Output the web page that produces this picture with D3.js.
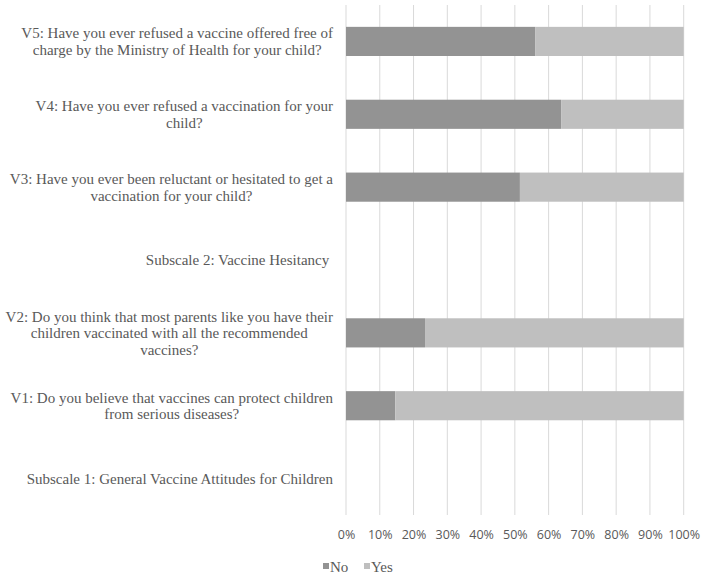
<!DOCTYPE html>
<html>
<head>
<meta charset="utf-8">
<script src="https://cdn.jsdelivr.net/npm/d3@7"></script>
<style>
  body { margin: 0; background: #fff; }
  svg { display: block; }
</style>
</head>
<body>
<svg id="vis" width="708" height="580"></svg>
<script>
// categories from top to bottom, each label split in lines as in the picture
var categories = ["V5", "V4", "V3", "S2", "V2", "V1", "S1"];
var labelLines = [
    ["V5: Have you ever refused a vaccine offered free of", "charge by the Ministry of Health for your child?"],
    ["V4: Have you ever refused a vaccination for your", "child?"],
    ["V3: Have you ever been reluctant or hesitated to get a", "vaccination for your child?"],
    ["Subscale 2: Vaccine Hesitancy\u00a0"],
    ["V2: Do you think that most parents like you have their", "children vaccinated with all the recommended", "vaccines?"],
    ["V1: Do you believe that vaccines can protect children", "from serious diseases?"],
    ["Subscale 1: General Vaccine Attitudes for Children"]
];
var noValues  = [0.56, 0.637, 0.515, 0, 0.234, 0.146, 0];
var yesValues = [0.44, 0.363, 0.485, 0, 0.766, 0.854, 0];
var xTicks = [0, 0.1, 0.2, 0.3, 0.4, 0.5, 0.6, 0.7, 0.8, 0.9, 1];
var seriesNames = ["No", "Yes"];
var colours = ["#939393", "#bfbfbf"];

var svg = d3.select("#vis");
var plotLeft = 346, plotRight = 683.7, plotTop = 5, plotBottom = 515;

var x = d3.scaleLinear().domain([0, 1]).range([plotLeft, plotRight]);
var y = d3.scaleBand().domain(categories).range([plotTop, plotBottom]).paddingInner(0.6).paddingOuter(0.3);

// gridlines
svg.append("g")
    .selectAll("line")
    .data(xTicks)
    .enter()
    .append("line")
    .attr("x1", function(d) { return x(d); })
    .attr("x2", function(d) { return x(d); })
    .attr("y1", plotTop)
    .attr("y2", plotBottom)
    .attr("stroke", "#d9d9d9")
    .attr("stroke-width", 1);

// stacked bars
var rows = categories.map(function(c, i) {
    return { cat: c, No: noValues[i], Yes: yesValues[i] };
});
var stack = d3.stack().keys(seriesNames);
var series = stack(rows);

svg.append("g")
    .selectAll("g")
    .data(series)
    .enter()
    .append("g")
    .attr("fill", function(d, i) { return colours[i]; })
    .selectAll("rect")
    .data(function(d) { return d; })
    .enter()
    .append("rect")
    .attr("x", function(d) { return x(d[0]); })
    .attr("y", function(d) { return y(d.data.cat); })
    .attr("width", function(d) { return x(d[1]) - x(d[0]); })
    .attr("height", y.bandwidth());

// x axis labels
var xAxis = d3.axisBottom(x).tickValues(xTicks).tickSize(0).tickPadding(0)
    .tickFormat(d3.format(".0%"));
var ax = svg.append("g")
    .attr("transform", "translate(0," + (plotBottom + 15) + ")")
    .call(xAxis);
ax.select(".domain").remove();
ax.selectAll("text")
    .attr("dy", "0.71em")
    .attr("fill", "#595959")
    .style("font-family", "'Open Sans', 'Liberation Sans', sans-serif")
    .style("font-size", "12.5px");

// category labels: block right-aligned, lines centred in the block
var labelRight = 333;
var lineH = 16.5;
var fontSerif = "'Liberation Serif', 'Times New Roman', serif";
categories.forEach(function(c, i) {
    var lines = labelLines[i];
    var cy = y(c) + y.bandwidth() / 2;
    var g = svg.append("g");
    var texts = g.selectAll("text")
        .data(lines)
        .enter()
        .append("text")
        .attr("text-anchor", "middle")
        .attr("fill", "#595959")
        .style("font-family", fontSerif)
        .style("font-size", "15px")
        .text(function(d) { return d; });
    var maxW = 0;
    texts.each(function() { maxW = Math.max(maxW, this.getComputedTextLength()); });
    var startY = cy - (lines.length - 1) * lineH / 2;
    texts.attr("x", labelRight - maxW / 2)
        .attr("y", function(d, j) { return startY + j * lineH; })
        .attr("dy", "0.35em");
});

// legend
var legend = svg.append("g").attr("transform", "translate(323,567)");
var legX = [0, 41];
seriesNames.forEach(function(s, i) {
    legend.append("rect")
        .attr("x", legX[i])
        .attr("y", -4)
        .attr("width", 6)
        .attr("height", 6)
        .attr("fill", colours[i]);
    legend.append("text")
        .attr("x", legX[i] + 7)
        .attr("y", 5)
        .attr("fill", "#595959")
        .style("font-family", fontSerif)
        .style("font-size", "15px")
        .text(s);
});
</script>
</body>
</html>
